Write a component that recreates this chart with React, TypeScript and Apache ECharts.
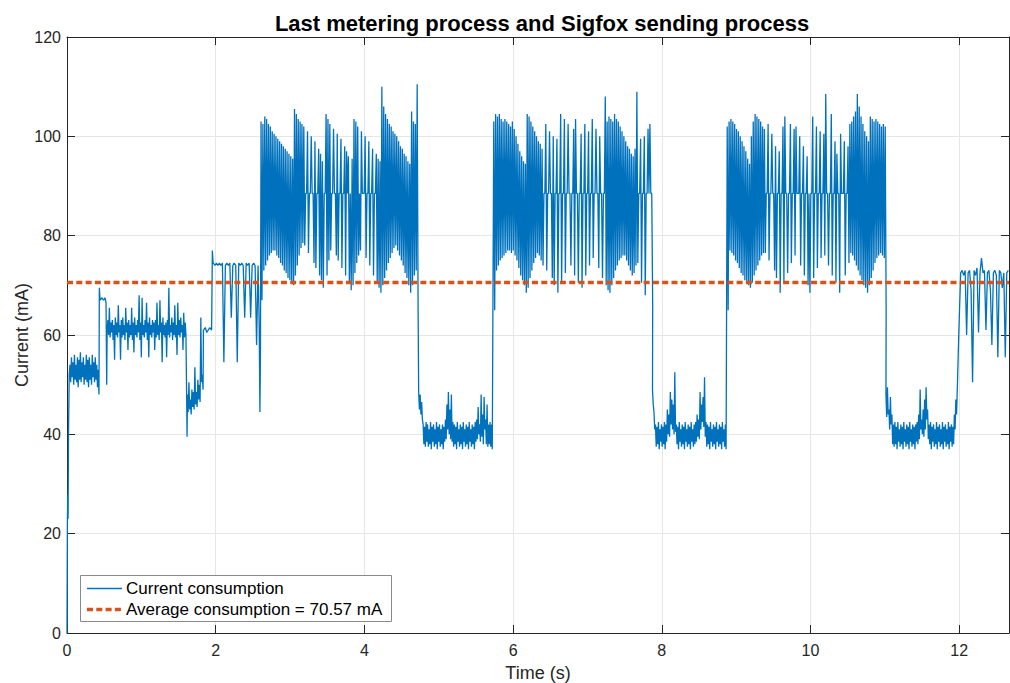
import React, { useEffect, useRef } from "react";
import * as echarts from "echarts";

// ---- Measured current trace (mA) ----
// Irregular points are [time s, current mA]. Regular noisy runs are stored as
// paired upper / lower readings: upper at t, lower half a sample later.

const STEP = 0.02; // s, idle / metering sampling (pairs)
const STEP_RF = 0.025; // s, radio frame sampling (pairs)

const powerUp: [number, number][] = [
  [0, 0], [0.005, 22], [0.01, 28], [0.015, 23], [0.02, 40], [0.03, 52],
];

const wakeIdleStart = 0.04;
const wakeIdleUpper = [54, 55.5, 54.5, 56, 54, 55.5, 55, 56.5, 54.5, 55.5, 54, 56, 55, 55.5, 54, 56, 54.5, 55.5, 54, 53];
const wakeIdleLower = [50.5, 51.5, 50, 51, 50.5, 49.5, 51, 50.5, 51.5, 50, 51, 50.5, 49.5, 51, 50, 51.5, 50.5, 51, 49.5, 48];

const meterStart: [number, number][] = [
  [0.435, 69.5], [0.445, 67], [0.47, 67.5], [0.49, 67], [0.51, 67.5],
  [0.525, 66.5], [0.534, 50], [0.54, 61],
];

const meterReadStart = 0.55;
const meterReadUpper = [
  63, 65.5, 62.5, 63, 62, 63.5, 62.5, 66, 62, 63, 63.5, 62, 65.5, 62.5, 63, 62,
  65.5, 62.5, 63.5, 62, 63, 68, 62.5, 67.5, 62, 63, 66.5, 62.5, 63.5, 62, 63, 62.5,
  63, 66.5, 62, 67, 62.5, 63.5, 62, 62.5, 63, 69.5, 62, 63.5, 62.5, 66, 62, 66.5,
  63, 63.5, 62, 64.5, 62.5,
];
const meterReadLower = [
  60, 59.5, 60.5, 59, 55, 60, 59.5, 60.5, 55, 59.5, 60, 59, 60.5, 57, 59.5, 60, 59,
  56.5, 60, 59.5, 60.5, 59, 55.5, 60, 59.5, 60.5, 59, 55.5, 60, 59.5, 60.5, 57,
  59.5, 60, 59, 60.5, 54.5, 60, 59.5, 55.5, 60, 59.5, 60.5, 59, 60, 59.5, 56, 60,
  59.5, 60.5, 57, 59.5, 60,
];

const meterDip: [number, number][] = [[1.605, 60], [1.615, 39.5]];

const meterSettleStart = 1.62;
const meterSettleUpper = [48, 50.5, 47, 49, 48.5, 53.5, 48.5, 51, 50, 63.5, 52];
const meterSettleLower = [44.5, 45, 44, 45.5, 45, 46, 45.5, 47, 46.5, 50.5, 49];

const meterStore: [number, number][] = [
  [1.835, 61], [1.86, 61.5], [1.88, 60.5], [1.9, 61], [1.92, 61.5],
  [1.945, 61], [1.955, 77], [1.965, 74.5],
];

const radioPrepStart = 1.97;
const radioPrep = [
  74.5, 74, 74.5, 74, 74.5, 74, 74.5, 54.5, 74, 74.5, 74, 74.5, 63.5, 74, 74.5,
  74, 54.5, 74.5, 74, 74.5, 74, 63.5, 74.5, 74, 74.5, 63.5, 74, 74.5, 74, 58, 74,
];

const radioPrepEnd: [number, number][] = [[2.585, 62], [2.595, 44.5], [2.602, 57]];

// Sigfox frame transmissions (three repetitions): peak and trough per carrier cycle
const frame1Start = 2.61;
const frame1Peaks = [
  103, 102.5, 104, 103.5, 102.5, 102, 101, 100.5, 100, 99.5, 99, 98.5, 98, 97.5, 97, 96.5, 96, 95.5,
  105.5, 104.5, 103.5, 103, 102.5, 102,
  88.5, 101, 88.5, 100, 88.5, 99, 88.5, 97.5, 96.5, 95,
  88.5, 104.5, 103.5, 102.5,
  88.5, 101.5, 88.5, 100.5, 88.5, 99.5, 88.5, 98, 97, 96,
  88.5, 95.5, 103.5, 103, 102,
  88.5, 101, 88.5, 100, 88.5, 99, 88.5, 97.5, 88.5, 96.5, 95.5, 95,
  110, 106, 104.5, 103.5, 102.5, 102, 101, 100.5, 100, 99, 98, 97.5, 96.5, 96, 95, 94.5, 105, 103, 102.5, 110.5,
];
const frame1Troughs = [
  67, 73, 74, 75, 76, 76.5, 77, 77, 76, 75.5, 74.5, 74, 73, 72.5, 71.5, 71, 70.5, 70,
  72, 74, 76, 77.5, 78.5, 78,
  88.5, 76.5, 88.5, 88.5, 74.5, 73.5, 88.5, 72, 71, 69.5,
  88.5, 72, 75, 77,
  88.5, 88.5, 76, 75, 88.5, 73.5, 88.5, 72, 88.5, 70.5,
  69, 70, 72.5, 74.5, 76,
  77, 88.5, 88.5, 75.5, 88.5, 74, 88.5, 72, 88.5, 70.5, 69.5, 68.5,
  70, 71.5, 73, 74.5, 75.5, 76.5, 77.5, 78, 77, 76, 75, 74, 72.5, 71.5, 70, 68.5, 70, 72, 73, 65,
];

const gap1Start = 4.73;
const gap1Upper = [
  48.5, 48, 46.5, 42, 41.5, 42.5, 42, 41, 42.5, 41.5, 42, 41, 42.5, 41.5, 42, 41,
  42, 41.5, 43, 46, 48.5, 45, 48, 42.5, 42, 41.5, 42.5, 41, 42, 41.5, 42.5, 41, 42,
  41.5, 42.5, 41, 42, 41.5, 42.5, 43, 45.5, 42, 48, 44, 47.5, 43, 46, 42, 42.5, 42,
];
const gap1Lower = [
  45, 44, 43, 38, 37.5, 38.5, 37.5, 38, 37, 38.5, 37.5, 38, 37, 38.5, 37.5, 38, 37,
  38.5, 39, 41, 40, 39, 38.5, 37.5, 38, 37, 38.5, 37.5, 38, 37, 38.5, 37.5, 38, 37,
  38.5, 37.5, 38, 37, 38.5, 39, 40, 38.5, 39.5, 38, 41, 38, 37.5, 38, 37.5, 37,
];

const frame2Start = 5.74;
const frame2Peaks = [
  103, 104.5, 104, 104.5, 103.5, 103, 103.5, 103, 102.5, 102, 103, 101.5, 100, 98.5,
  97, 96, 95, 94.5, 104.5, 104, 103, 102, 101, 100, 99, 98.5, 97.5,
  88.5, 102.5, 88.5, 101, 88.5, 100, 88.5, 99.5, 88.5, 104.5, 88.5, 103.5, 88.5,
  102.5, 88.5, 88.5, 101.5, 103.5, 88.5, 88.5, 100.5, 88.5, 102.5, 88.5, 101, 88.5,
  103.5, 88.5, 101.5, 88.5, 100, 88.5, 88.5, 108,
  103, 104, 103.5, 103, 104.5, 103.5, 103, 102, 101, 100, 99, 98, 97.5, 96.5, 96,
  97.5, 109, 88.5, 99.5, 88.5, 100, 88.5, 101.5, 102.5, 88.5,
];
const frame2Troughs = [
  65, 73, 74, 75, 75.5, 76, 76.5, 77, 77, 76.5, 77, 76, 75, 73.5, 72, 71, 70, 68.5,
  69.5, 71.5, 73, 74.5, 75.5, 76.5, 76, 75, 74,
  88.5, 73, 88.5, 88.5, 71.5, 70, 88.5, 68.5, 88.5, 70.5, 88.5, 72.5, 88.5, 88.5,
  74, 88.5, 72, 88.5, 70.5, 88.5, 69.5, 88.5, 72, 88.5, 74, 88.5, 75.5, 88.5, 88.5,
  73.5, 88.5, 71.5, 88.5, 70,
  69, 68.5, 70, 71.5, 73, 74, 75, 75.5, 76, 76, 75, 74, 73, 72, 72.5, 74, 74.5,
  88.5, 70.5, 88.5, 68, 88.5, 88.5, 88.5, 66,
];

const gap2Start = 7.875;
const gap2Upper = [
  49, 44.5, 42, 41.5, 42.5, 41, 42, 41.5, 42.5, 42, 45, 44, 48.5, 47, 46, 52.5, 42,
  41.5, 42.5, 41, 42, 41.5, 42.5, 41, 42, 41.5, 42.5, 41, 42, 42.5, 44, 43, 48.5,
  46, 47.5, 51.5, 42.5, 42, 41.5, 42.5, 41, 42, 41.5, 42.5, 41, 42, 41.5, 42.5, 41,
  42,
];
const gap2Lower = [
  46, 41, 37.5, 38, 37, 38.5, 37.5, 38, 37, 38.5, 40, 39.5, 42, 41, 40, 40.5, 38,
  37, 38.5, 37.5, 38, 37, 38.5, 37.5, 38, 37, 38.5, 37.5, 38, 38.5, 39.5, 39, 41,
  42.5, 41.5, 39.5, 37.5, 38, 37, 38.5, 37.5, 38, 37, 38.5, 37.5, 38, 37, 38.5,
  37.5, 37,
];

const frame3Start = 8.88;
const frame3Peaks = [
  102, 103, 103.5, 103, 102.5, 101.5, 101, 100, 99, 98, 97, 95.5, 94.5, 100, 103,
  104.5, 104, 103.5, 103, 102, 101.5,
  88.5, 102.5, 88.5, 100.5, 88.5, 98, 88.5, 97, 88.5, 102, 104, 88.5, 88.5, 102.5,
  88.5, 101.5, 102, 88.5, 100, 88.5, 98, 88.5, 96, 88.5, 88.5, 104, 88.5, 102, 88.5,
  101, 88.5, 100.5, 108.5, 88.5, 88.5, 104.5, 88.5, 99, 96.5, 88.5, 100.5, 88.5, 99,
  88.5, 98,
  102.5, 103, 104, 105, 108.5, 106, 104, 102.5, 101, 100, 99, 104, 103.5, 103,
  103.5, 103, 102.5, 102, 102.5, 102,
];
const frame3Troughs = [
  65, 77, 76.5, 76, 75, 74.5, 73.5, 72.5, 72, 71, 70.5, 70, 69.5, 70.5, 72, 73, 74,
  75, 76, 76.5, 76.5,
  88.5, 75, 88.5, 88.5, 73, 71.5, 88.5, 68.5, 88.5, 70.5, 88.5, 72.5, 88.5, 74.5,
  88.5, 76, 88.5, 88.5, 74, 88.5, 72, 88.5, 70, 68.5, 88.5, 71.5, 88.5, 73.5, 88.5,
  75.5, 88.5, 76, 88.5, 74, 88.5, 72, 88.5, 70.5, 88.5, 68.5, 88.5, 88.5, 72, 88.5,
  74.5,
  76.5, 76, 75, 74, 73, 72, 71, 70, 69.5, 68.5, 70, 71.5, 73, 74.5, 75.5, 76, 76.5,
  76, 75.5, 65,
];

const gap3Start = 11.015;
const gap3Upper = [
  48, 49.5, 45, 47.5, 44, 42, 42.5, 41.5, 42.5, 41, 42, 41.5, 42.5, 41, 42, 41.5,
  42.5, 41, 42, 41.5, 42, 42.5, 44, 49, 43, 45, 47, 49.5, 45, 42, 42.5, 41.5, 42,
  41, 42.5, 41.5, 42, 41, 42.5, 41.5, 42, 41, 42.5, 41.5, 42, 41.5, 44, 47,
];
const gap3Lower = [
  43.5, 44, 41, 42, 38, 37.5, 38, 37, 38.5, 37.5, 38, 37, 38.5, 37.5, 38, 37, 38.5,
  37.5, 38, 37, 38.5, 38, 39, 41, 40, 39.5, 41, 43, 39, 38, 37, 38.5, 37.5, 38, 37,
  38.5, 37.5, 38, 37, 38.5, 37.5, 38, 37, 38.5, 37.5, 38, 41, 44,
];

const wakeRamp: [number, number][] = [[11.98, 52], [11.995, 60.5]];

const tailStart = 12.02;
const tail = [
  72.5, 73, 72, 73, 60, 72.5, 73, 69, 50.5, 73, 72, 73.5, 60.5, 72.5, 75.5, 72.5,
  73, 61, 72.5, 73, 69, 58, 72.5, 73, 72, 55.5, 73, 72.5, 69.5, 72.5, 55.5, 72.5,
  73,
];

const AVERAGE_MA = 70.57;

const X_MIN = 0;
const X_MAX = 12.67;
const X_TICK = 2;
const Y_MIN = 0;
const Y_MAX = 120;
const Y_TICK = 20;

const TITLE = "Last metering process and Sigfox sending process";
const X_NAME = "Time (s)";
const Y_NAME = "Current (mA)";
const CURRENT_LABEL = "Current consumption";
const AVERAGE_LABEL = `Average consumption = ${AVERAGE_MA} mA`;

const round = (t: number) => +t.toFixed(4);

// single readings on a regular time base
const run = (start: number, step: number, values: number[]): [number, number][] =>
  values.map((v, i) => [round(start + i * step), v]);

// paired upper/lower readings: upper at t, lower half a step later
const paired = (start: number, step: number, upper: number[], lower: number[]): [number, number][] =>
  upper.flatMap((u, i) => [
    [round(start + i * step), u],
    [round(start + i * step + step / 2), lower[i]],
  ] as [number, number][]);

const currentTrace: [number, number][] = [
  ...powerUp,
  ...paired(wakeIdleStart, STEP, wakeIdleUpper, wakeIdleLower),
  ...meterStart,
  ...paired(meterReadStart, STEP, meterReadUpper, meterReadLower),
  ...meterDip,
  ...paired(meterSettleStart, STEP, meterSettleUpper, meterSettleLower),
  ...meterStore,
  ...run(radioPrepStart, STEP, radioPrep),
  ...radioPrepEnd,
  ...paired(frame1Start, STEP_RF, frame1Peaks, frame1Troughs),
  ...paired(gap1Start, STEP, gap1Upper, gap1Lower),
  ...paired(frame2Start, STEP_RF, frame2Peaks, frame2Troughs),
  ...paired(gap2Start, STEP, gap2Upper, gap2Lower),
  ...paired(frame3Start, STEP_RF, frame3Peaks, frame3Troughs),
  ...paired(gap3Start, STEP, gap3Upper, gap3Lower),
  ...wakeRamp,
  ...run(tailStart, STEP, tail),
];

const FONT = "'Liberation Sans', Arial, Helvetica, sans-serif";
const INK = "#262626";
const BLUE = "#0072BD";
const ORANGE = "#D95319";
const GRID = "#e6e6e6";

export default function App() {
  const ref = useRef<HTMLDivElement>(null);

  useEffect(() => {
    document.body.style.margin = "0";
    if (!ref.current) return;
    const chart = echarts.init(ref.current, undefined, { renderer: "svg" });

    const sideAxis = {
      type: "value" as const,
      axisLine: { show: true, onZero: false, lineStyle: { color: INK, width: 1 } },
      axisTick: { show: true, inside: true, length: 8, lineStyle: { color: INK } },
      axisLabel: { show: false },
      splitLine: { show: false },
    };

    const LEGEND_Z = 100;

    chart.setOption({
      animation: false,
      backgroundColor: "#ffffff",
      textStyle: { fontFamily: FONT },
      title: {
        text: TITLE,
        left: 537,
        top: 7,
        textAlign: "center",
        textStyle: { fontFamily: FONT, fontSize: 22, fontWeight: "bold", color: "#000" },
      },
      grid: { left: 67, right: 1, top: 37, bottom: 50, containLabel: false, outerBoundsMode: "none" },
      xAxis: [
        {
          type: "value",
          position: "bottom",
          min: X_MIN,
          max: X_MAX,
          interval: X_TICK,
          name: X_NAME,
          nameLocation: "middle",
          nameGap: 31,
          nameMoveOverlap: false,
          nameTextStyle: { fontFamily: FONT, fontSize: 18, color: INK },
          axisLine: { show: true, onZero: false, lineStyle: { color: INK, width: 1 } },
          axisTick: { show: true, inside: true, length: 8, lineStyle: { color: INK } },
          axisLabel: {
            color: INK,
            fontSize: 16,
            fontFamily: FONT,
            margin: 9,
            showMaxLabel: false,
            formatter: (v: number) => (Math.abs(v / X_TICK - Math.round(v / X_TICK)) < 1e-6 ? String(v) : ""),
          },
          splitLine: { show: true, lineStyle: { color: GRID, width: 1 } },
        },
        { ...sideAxis, position: "top", min: X_MIN, max: X_MAX, interval: X_TICK },
      ],
      yAxis: [
        {
          type: "value",
          position: "left",
          min: Y_MIN,
          max: Y_MAX,
          interval: Y_TICK,
          name: Y_NAME,
          nameLocation: "middle",
          nameGap: 36,
          nameMoveOverlap: false,
          nameRotate: 90,
          nameTextStyle: { fontFamily: FONT, fontSize: 18, color: INK },
          axisLine: { show: true, onZero: false, lineStyle: { color: INK, width: 1 } },
          axisTick: { show: true, inside: true, length: 8, lineStyle: { color: INK } },
          axisLabel: { color: INK, fontSize: 16, fontFamily: FONT, margin: 6 },
          splitLine: { show: true, lineStyle: { color: GRID, width: 1 } },
        },
        { ...sideAxis, position: "right", min: Y_MIN, max: Y_MAX, interval: Y_TICK },
      ],
      series: [
        {
          name: CURRENT_LABEL,
          type: "line",
          xAxisIndex: 0,
          yAxisIndex: 0,
          data: currentTrace,
          showSymbol: false,
          symbol: "none",
          silent: true,
          lineStyle: { color: BLUE, width: 1.3 },
          z: 2,
        },
        {
          name: AVERAGE_LABEL,
          type: "line",
          xAxisIndex: 0,
          yAxisIndex: 0,
          data: [
            [X_MIN, AVERAGE_MA],
            [X_MAX, AVERAGE_MA],
          ],
          showSymbol: false,
          symbol: "none",
          silent: true,
          lineStyle: { color: ORANGE, width: 3.3, type: [6, 3.3], cap: "butt" },
          z: 3,
        },
      ],
      graphic: [
        {
          type: "rect",
          z: LEGEND_Z,
          shape: { x: 80.5, y: 575.5, width: 311, height: 46 },
          style: { fill: "#ffffff", stroke: "#8a8a8a", lineWidth: 1 },
        },
        {
          type: "line",
          z: LEGEND_Z + 1,
          shape: { x1: 87, y1: 588.5, x2: 122, y2: 588.5 },
          style: { stroke: BLUE, lineWidth: 1.3 },
        },
        {
          type: "text",
          z: LEGEND_Z + 1,
          x: 126,
          y: 588.5,
          style: {
            text: CURRENT_LABEL,
            fontFamily: FONT,
            fontSize: 17,
            fill: "#000",
            verticalAlign: "middle",
            align: "left",
          },
        },
        {
          type: "line",
          z: LEGEND_Z + 1,
          shape: { x1: 87, y1: 609.5, x2: 122, y2: 609.5 },
          style: { stroke: ORANGE, lineWidth: 3.3, lineDash: [6, 3.3] },
        },
        {
          type: "text",
          z: LEGEND_Z + 1,
          x: 126,
          y: 609.5,
          style: {
            text: AVERAGE_LABEL,
            fontFamily: FONT,
            fontSize: 17,
            fill: "#000",
            verticalAlign: "middle",
            align: "left",
          },
        },
      ],
    });

    return () => chart.dispose();
  }, []);

  return <div ref={ref} style={{ width: 1010, height: 683 }} />;
}
